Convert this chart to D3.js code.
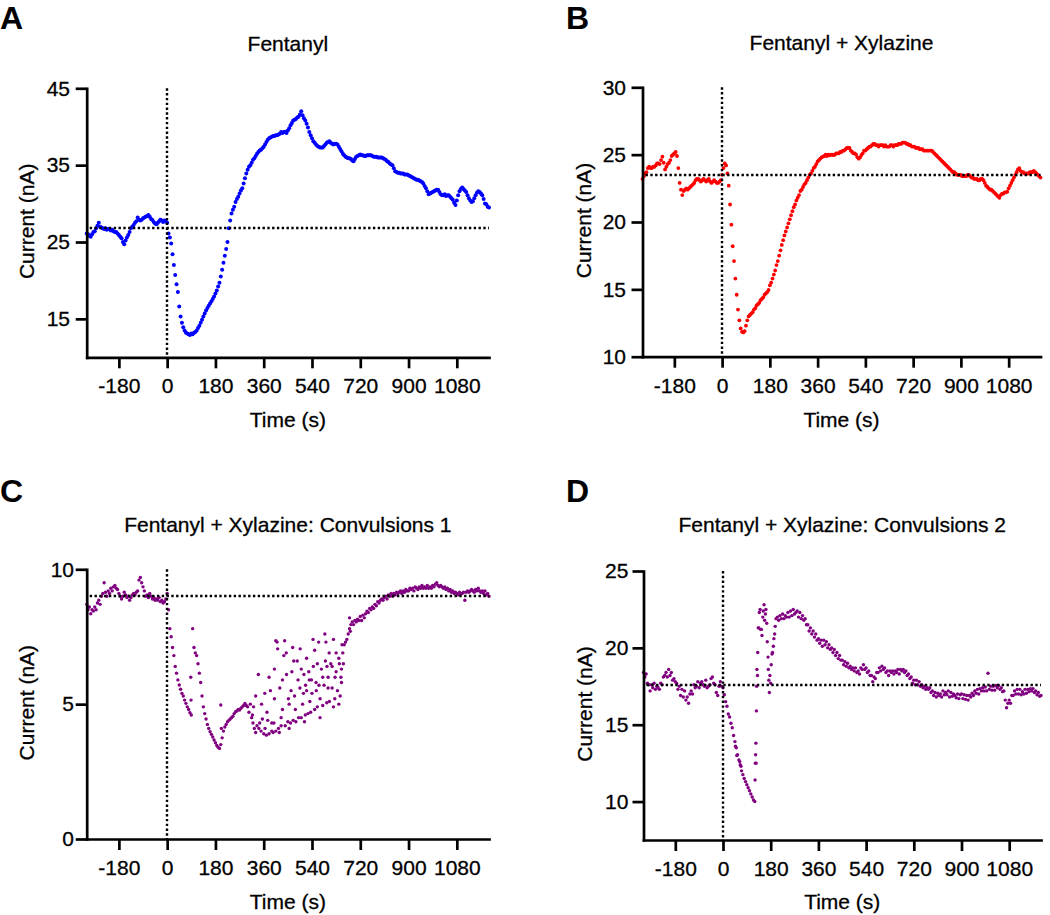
<!DOCTYPE html>
<html>
<head>
<meta charset="utf-8">
<script src="https://cdn.jsdelivr.net/npm/d3@7"></script>
<style>
  body { margin: 0; background: #ffffff; }
  svg text { font-family: Arial, "Liberation Sans", Helvetica, sans-serif; fill: #000; }
</style>
</head>
<body>
<svg id="chart" width="1050" height="915"></svg>
<script>
// ---------------- DATA ----------------
// samples every 5 s from -300 s to 1200 s (301 values per trace)
const sampleStart = -300;
const sampleStep = 5;
const timeDomain = [-300, 1200];

const xTickValues = [-180, 0, 180, 360, 540, 720, 900, 1080];
const xTickLabels = ["-180", "0", "180", "360", "540", "720", "900", "1080"];

const panelLetters = ["A", "B", "C", "D"];
const panelTitles = ["Fentanyl", "Fentanyl + Xylazine", "Fentanyl + Xylazine: Convulsions 1", "Fentanyl + Xylazine: Convulsions 2"];
const xAxisTitle = "Time (s)";
const yAxisTitle = "Current (nA)";

const yTicksA = [15, 25, 35, 45];
const yTicksB = [10, 15, 20, 25, 30];
const yTicksC = [0, 5, 10];
const yTicksD = [10, 15, 20, 25];

const baselineValues = [26.8, 23.5, 9.0, 17.6];

// Panel A: Fentanyl (nA)
const fentanylValues = [
  26.1, 26.0, 25.8, 25.7, 26.0, 26.3, 26.4, 26.8, 27.1, 27.5, 27.0, 26.9,
  26.8, 26.7, 26.8, 26.6, 26.7, 26.7, 26.5, 26.6, 26.4, 26.3, 26.3, 26.1,
  25.9, 25.7, 25.5, 25.0, 24.7, 25.2, 25.6, 25.9, 26.3, 26.8, 27.0, 27.2,
  27.5, 27.7, 28.2, 27.9, 27.8, 27.9, 28.1, 28.2, 28.3, 28.4, 28.5, 28.3,
  28.0, 27.85, 27.6, 27.4, 27.3, 27.5, 27.7, 27.9, 27.8, 27.6, 27.8, 27.7,
  27.5, 26.1, 25.6, 24.8, 23.4, 22.0, 20.7, 19.5, 18.5, 16.6, 15.3, 14.5,
  13.9, 13.5, 13.2, 13.1, 13.0, 12.9, 13.1, 13.0, 13.2, 13.3, 13.5, 13.8,
  14.1, 14.5, 14.9, 15.3, 15.7, 16.1, 16.4, 16.7, 17.0, 17.3, 17.6, 17.9,
  18.3, 18.7, 19.2, 19.7, 20.5, 21.4, 22.3, 23.2, 24.1, 25.0, 26.8, 27.8,
  28.7, 29.2, 29.6, 30.2, 30.6, 30.9, 31.3, 31.7, 32.0, 32.6, 33.3, 33.9,
  34.4, 34.8, 35.0, 35.3, 35.7, 35.9, 36.2, 36.5, 36.7, 36.9, 37.0, 37.2,
  37.4, 37.7, 38.0, 38.3, 38.5, 38.6, 38.7, 38.8, 38.8, 38.9, 38.9, 39.0,
  39.1, 39.3, 39.2, 39.3, 39.35, 39.2, 39.5, 39.8, 40.2, 40.5, 40.8, 40.9,
  41.0, 41.2, 41.3, 41.6, 42.0, 41.5, 41.1, 40.8, 40.4, 39.9, 39.3, 38.9,
  38.5, 38.1, 37.9, 37.7, 37.5, 37.4, 37.3, 37.3, 37.3, 37.5, 37.7, 37.9,
  38.0, 38.1, 37.9, 37.8, 37.7, 37.8, 37.8, 37.7, 37.4, 37.1, 36.8, 36.5,
  36.3, 36.1, 36.0, 35.9, 35.9, 35.8, 35.6, 35.5, 35.8, 36.1, 36.2, 36.3,
  36.4, 36.3, 36.3, 36.2, 36.2, 36.3, 36.3, 36.3, 36.3, 36.2, 36.1, 36.1,
  36.1, 36.0, 36.0, 36.0, 36.0, 35.9, 35.8, 35.7, 35.5, 35.4, 35.2, 35.1,
  35.0, 34.6, 34.2, 34.1, 34.0, 34.0, 33.9, 33.9, 33.9, 33.8, 33.8, 33.8,
  33.7, 33.6, 33.5, 33.4, 33.3, 33.2, 33.1, 33.1, 33.0, 32.9, 32.8, 32.6,
  32.3, 32.0, 31.6, 31.2, 31.3, 31.4, 31.5, 31.6, 31.7, 31.8, 31.8, 31.5,
  31.2, 31.1, 31.1, 31.2, 31.0, 31.1, 31.1, 30.9, 30.7, 30.5, 30.1, 29.8,
  30.4, 31.1, 31.6, 31.9, 32.1, 31.9, 31.7, 31.5, 31.1, 30.7, 30.4, 30.2,
  30.3, 30.7, 31.1, 31.4, 31.6, 31.5, 31.3, 31.1, 30.6, 30.0, 29.9, 29.6,
  29.5
];

// Panel B: Fentanyl + Xylazine (nA)
const fentXylValues = [
  23.2, 23.4, 23.6, 23.7, 24.0, 24.1, 24.0, 24.0, 24.1, 24.1, 24.2, 24.35,
  24.35, 24.3, 24.6, 24.85, 24.4, 23.9, 24.1, 24.3, 24.4, 24.6, 24.9, 25.0,
  25.1, 25.2, 24.9, 24.0, 22.9, 22.4, 22.0, 22.3, 22.4, 22.5, 22.4, 22.5,
  22.6, 22.7, 22.8, 22.9, 23.1, 23.2, 23.2, 23.1, 23.0, 23.1, 23.2, 23.1,
  23.0, 23.1, 23.2, 23.0, 22.9, 23.0, 23.1, 23.0, 22.9, 22.9, 23.0, 23.1,
  23.5, 24.0, 24.35, 24.2, 23.6, 22.7, 21.3, 19.8, 18.2, 17.1, 15.8, 14.6,
  13.5, 12.7, 12.1, 11.85, 11.8, 11.9, 12.3, 12.7, 13.0, 13.1, 13.2, 13.3,
  13.5, 13.6, 13.8, 13.9, 14.0, 14.2, 14.3, 14.4, 14.6, 14.7, 14.8, 14.95,
  15.3, 15.5, 15.8, 16.1, 16.4, 16.8, 17.1, 17.5, 17.9, 18.3, 18.65, 19.0,
  19.3, 19.6, 19.9, 20.2, 20.5, 20.8, 21.1, 21.3, 21.6, 21.8, 22.0, 22.3,
  22.4, 22.6, 22.8, 22.9, 23.1, 23.3, 23.5, 23.6, 23.8, 24.0, 24.1, 24.3,
  24.5, 24.6, 24.7, 24.8, 24.85, 24.9, 25.0, 24.9, 25.0, 24.95, 25.0, 25.0,
  24.97, 25.0, 25.1, 25.1, 25.1, 25.2, 25.2, 25.3, 25.3, 25.4, 25.5, 25.5,
  25.5, 25.3, 25.2, 25.1, 25.1, 25.0, 24.8, 24.7, 24.8, 24.97, 25.1, 25.3,
  25.3, 25.4, 25.5, 25.6, 25.6, 25.7, 25.8, 25.8, 25.7, 25.7, 25.6, 25.7,
  25.7, 25.7, 25.6, 25.7, 25.6, 25.6, 25.6, 25.7, 25.7, 25.6, 25.7, 25.7,
  25.7, 25.8, 25.8, 25.8, 25.9, 25.9, 25.9, 25.8, 25.8, 25.7, 25.7, 25.6,
  25.6, 25.6, 25.5, 25.5, 25.5, 25.4, 25.4, 25.4, 25.3, 25.3, 25.3, 25.3,
  25.3, 25.3, 25.3, 25.2, 25.1, 25.0, 24.9, 24.8, 24.7, 24.6, 24.5, 24.4,
  24.3, 24.2, 24.1, 24.0, 23.9, 23.8, 23.7, 23.7, 23.6, 23.5, 23.5, 23.5,
  23.5, 23.4, 23.4, 23.4, 23.4, 23.5, 23.5, 23.4, 23.3, 23.3, 23.2, 23.2,
  23.2, 23.1, 23.1, 23.2, 23.2, 23.1, 22.9, 22.7, 22.6, 22.5, 22.4, 22.4,
  22.3, 22.2, 22.1, 22.0, 21.9, 21.8, 22.0, 22.1, 22.1, 22.2, 22.2, 22.25,
  22.5, 22.7, 22.9, 23.1, 23.3, 23.5, 23.7, 23.9, 24.0, 23.8, 23.7, 23.7,
  23.6, 23.6, 23.6, 23.6, 23.7, 23.7, 23.7, 23.8, 23.7, 23.6, 23.5, 23.4,
  23.3
];

// Panel C: Fentanyl + Xylazine: Convulsions 1 (nA)
const convulsions1Values = [
  8.7, 8.5, 8.6, 8.35, 8.5, 8.45, 8.6, 8.5, 8.75, 8.85, 8.7, 9.0,
  9.1, 9.5, 9.15, 9.0, 9.2, 9.1, 9.3, 9.2, 9.35, 9.4, 9.3, 9.25,
  9.1, 9.0, 8.9, 9.0, 9.15, 9.05, 8.95, 9.0, 8.85, 8.95, 9.05, 9.1,
  9.05, 9.15, 9.2, 9.6, 9.7, 9.5, 9.35, 9.2, 9.0, 9.05, 8.95, 9.1,
  9.0, 8.9, 8.95, 8.85, 8.9, 8.85, 8.95, 8.8, 8.85, 8.75, 8.8, 8.9,
  9.1, 8.5, 7.8, 7.5, 7.1, 6.8, 6.4, 6.15, 5.9, 5.71, 5.55, 5.4,
  5.3, 5.15, 5.03, 4.9, 4.8, 4.68, 4.6, 7.8, 7.1, 6.9, 6.8, 6.5,
  6.15, 5.8, 5.3, 4.9, 4.65, 4.45, 4.25, 4.1, 3.98, 3.88, 3.78, 3.67,
  3.57, 3.47, 3.4, 3.36, 3.5, 3.75, 4.0, 4.15, 4.25, 4.35, 4.4, 4.45,
  4.5, 4.55, 4.65, 4.72, 4.75, 4.8, 4.78, 4.85, 4.9, 4.95, 5.03, 4.95,
  4.9, 4.7, 5.0, 4.5, 4.3, 4.1, 3.95, 4.2, 6.1, 4.3, 4.0, 4.45,
  3.9, 4.1, 3.85, 4.4, 3.9, 5.5, 4.3, 3.95, 5.2, 4.0, 7.3, 4.1,
  5.6, 4.2, 4.8, 6.8, 4.2, 6.1, 4.35, 5.0, 4.3, 6.2, 4.4, 5.3,
  4.35, 6.6, 4.5, 5.6, 4.5, 5.0, 6.1, 4.6, 5.5, 4.65, 5.9, 4.7,
  5.4, 6.4, 4.8, 5.8, 4.9, 7.3, 5.2, 6.3, 4.95, 5.7, 6.6, 5.05,
  6.0, 5.1, 6.5, 5.6, 7.4, 5.2, 6.2, 5.5, 6.7, 5.3, 6.3, 6.9,
  7.2, 7.3, 7.4, 7.6, 7.8, 7.95, 8.05, 7.95, 8.1, 8.05, 8.15, 8.1,
  8.25, 8.1, 8.3, 8.2, 8.35, 8.45, 8.4, 8.55, 8.5, 8.6, 8.55, 8.7,
  8.65, 8.8, 8.75, 8.85, 8.9, 8.85, 8.95, 9.0, 8.9, 9.05, 9.0, 9.1,
  9.0, 9.1, 9.05, 9.15, 9.1, 9.15, 9.2, 9.1, 9.2, 9.15, 9.25, 9.2,
  9.2, 9.3, 9.25, 9.3, 9.2, 9.35, 9.3, 9.25, 9.35, 9.3, 9.4, 9.3,
  9.35, 9.3, 9.4, 9.3, 9.35, 9.3, 9.4, 9.35, 9.45, 9.5, 9.4, 9.35,
  9.4, 9.35, 9.3, 9.35, 9.25, 9.3, 9.2, 9.25, 9.15, 9.2, 9.1, 9.15,
  9.1, 9.05, 9.15, 9.1, 9.1, 9.15, 8.85, 9.15, 9.2, 9.15, 9.2, 9.25,
  9.2, 9.15, 9.25, 9.2, 9.3, 9.2, 9.15, 9.2, 9.1, 9.2, 9.05, 9.1,
  9.0
];
// additional scattered readings in panel C (time s, current nA)
const convulsions1ExtraTimes = [88, 89, 200, 202, 405, 412, 438, 444, 468, 472, 496, 500, 520, 528, 544, 550, 560, 588, 592, 604, 615, 630, 642, 650, 600, 580, 556, 538, 516, 488, 462, 430, 400, 380, 364, 352, 330, 322, 390, 418, 455, 512, 570, 620, 640, 648, 652, 657, 680, 683, 318, 342, 372, 398, 425, 452, 478, 508, 532, 566, 596, 626];
const convulsions1ExtraValues = [6.0, 5.15, 4.97, 4.1, 7.35, 7.05, 7.35, 6.9, 7.1, 6.6, 7.05, 6.3, 6.7, 6.2, 7.4, 7.0, 6.5, 7.6, 7.3, 6.9, 6.4, 6.9, 6.5, 5.8, 5.6, 6.0, 5.5, 5.9, 5.7, 5.9, 5.5, 5.9, 6.3, 6.0, 5.4, 5.0, 5.3, 4.9, 4.0, 3.95, 4.1, 4.35, 4.5, 4.9, 5.0, 6.0, 7.2, 6.5, 8.2, 7.7, 4.6, 4.1, 4.7, 4.3, 4.5, 5.2, 4.8, 5.4, 5.1, 5.7, 6.4, 6.0];

// Panel D: Fentanyl + Xylazine: Convulsions 2 (nA)
const convulsions2Values = [
  18.4, 18.1, 18.3, 17.7, 17.6, 17.2, 17.6, 17.4, 17.7, 17.3, 17.5, 17.4,
  17.3, 17.7, 17.6, 18.1, 18.2, 18.4, 18.1, 18.6, 18.2, 18.4, 17.9, 18.0,
  17.8, 17.7, 17.3, 17.5, 16.9, 17.3, 16.8, 17.2, 16.6, 16.8, 16.4, 17.0,
  17.2, 17.0, 17.6, 17.4, 17.5, 17.8, 17.4, 17.7, 17.8, 17.6, 17.5, 17.9,
  17.4, 17.5, 17.6, 18.0, 18.1, 17.7, 17.6, 17.1, 16.9, 17.5, 17.8, 17.5,
  17.4, 16.95, 16.5, 16.2, 15.7, 15.5, 15.1, 14.8, 14.3, 13.9, 13.5, 13.05,
  12.7, 12.4, 12.0, 11.75, 11.5, 11.3, 11.1, 10.9, 10.7, 10.5, 10.3, 10.1,
  10.0, 12.5, 18.2, 21.3, 22.5, 21.2, 22.0, 22.8, 22.2, 21.6, 19.4, 17.1,
  17.7, 19.6, 20.1, 20.9, 21.9, 22.0, 21.8, 22.1, 21.9, 22.2, 21.9, 22.1,
  22.0, 22.3, 22.0, 22.4, 22.1, 22.5, 22.2, 22.3, 22.4, 22.0, 22.3, 21.9,
  22.1, 21.8, 21.9, 21.5, 21.5, 21.1, 21.3, 20.9, 21.1, 20.7, 20.9, 20.5,
  20.6, 20.3, 20.5, 20.1, 20.5, 20.2, 20.4, 20.0, 20.2, 19.9, 20.0, 19.7,
  19.9, 19.5, 19.7, 19.3, 19.5, 19.2, 19.2, 18.9, 19.1, 18.8, 19.0, 18.7,
  18.8, 18.6, 18.7, 18.5, 18.7, 18.4, 18.5, 18.3, 18.7, 18.6, 18.9, 18.6,
  18.7, 18.4, 18.5, 18.2, 18.2, 17.8, 18.1, 18.0, 18.4, 18.4, 18.7, 18.5,
  18.8, 18.6, 18.7, 18.4, 18.5, 18.2, 18.5, 18.4, 18.5, 18.3, 18.5, 18.4,
  18.6, 18.3, 18.6, 18.5, 18.6, 18.4, 18.5, 18.2, 18.3, 18.0, 18.1, 17.7,
  17.9, 17.6, 17.9, 17.6, 17.8, 17.5, 17.6, 17.4, 17.5, 17.3, 17.4, 17.3,
  17.4, 17.1, 17.2, 16.9, 17.1, 16.8, 17.05, 16.9, 17.0, 16.8, 17.2, 16.95,
  17.1, 16.95, 17.2, 16.8, 17.1, 16.85, 17.0, 16.9, 16.75, 17.0, 16.7, 16.95,
  17.0, 16.7, 16.95, 16.65, 16.9, 16.6, 16.9, 16.8, 17.05, 16.9, 17.2, 17.05,
  17.3, 17.0, 17.35, 17.2, 17.4, 17.2, 17.45, 17.2, 18.35, 17.3, 17.5, 17.25,
  17.5, 17.25, 17.55, 17.4, 17.55, 17.3, 17.4, 17.15, 17.2, 16.6, 16.1, 16.4,
  16.6, 16.4, 16.9, 16.9, 17.2, 17.0, 17.3, 17.0, 17.3, 16.95, 17.15, 17.0,
  17.3, 17.05, 17.3, 17.15, 17.35, 17.2, 17.35, 17.1, 17.2, 16.95, 17.1, 16.85,
  16.9
];
// additional scattered readings in panel D (time s, current nA)
const convulsions2ExtraTimes = [121, 122, 123, 124, 126, 127, 128, 131, 133, 137, 142, 147, 152, 157, 162, 167, 171, 173, 177, 182, 187, 192, 197, 47, 52, 63, 68];
const convulsions2ExtraValues = [11.4, 12.5, 13.05, 13.8, 15.9, 17.5, 18.6, 19.7, 21.3, 22.3, 21.2, 20.8, 22.4, 21.8, 22.5, 20.4, 18.6, 17.9, 18.2, 18.9, 19.7, 20.6, 21.4, 13.6, 13.0, 12.6, 12.3];

// ---------------- LAYOUT / STYLE ----------------
const panels = [
  { letter: panelLetters[0], title: panelTitles[0], values: fentanylValues, extraT: [], extraV: [],
    color: "#0000ff", r: 2.0, yDomain: [10, 45], yTicks: yTicksA, baseline: baselineValues[0],
    left: 86.7, right: 489, top: 88.3, bottom: 357.3, yPad: 5.7,
    letterX: 0, letterY: 29, titleY: 50.5, yTitleX: 34, xTitleY: 427 },
  { letter: panelLetters[1], title: panelTitles[1], values: fentXylValues, extraT: [], extraV: [],
    color: "#ff0000", r: 1.9, yDomain: [10, 30], yTicks: yTicksB, baseline: baselineValues[1],
    left: 642.5, right: 1040.5, top: 87.3, bottom: 356.7, yPad: 5.5,
    letterX: 566, letterY: 29, titleY: 50, yTitleX: 591, xTitleY: 427 },
  { letter: panelLetters[2], title: panelTitles[2], values: convulsions1Values, extraT: convulsions1ExtraTimes, extraV: convulsions1ExtraValues,
    color: "#800080", r: 1.7, yDomain: [0, 10], yTicks: yTicksC, baseline: baselineValues[2],
    left: 86.7, right: 489, top: 569.3, bottom: 839, yPad: 1.7,
    letterX: 0, letterY: 502, titleY: 532, yTitleX: 34, xTitleY: 909 },
  { letter: panelLetters[3], title: panelTitles[3], values: convulsions2Values, extraT: convulsions2ExtraTimes, extraV: convulsions2ExtraValues,
    color: "#800080", r: 1.7, yDomain: [7.5, 25], yTicks: yTicksD, baseline: baselineValues[3],
    left: 643.5, right: 1041, top: 571, bottom: 840, yPad: 4.2,
    letterX: 566, letterY: 502, titleY: 532, yTitleX: 592, xTitleY: 909 }
];

const textStroke = 0.3;

const svg = d3.select("#chart");
svg.append("rect").attr("width", 1050).attr("height", 915).attr("fill", "#fff");

panels.forEach(p => {
  const x = d3.scaleLinear().domain(timeDomain).range([p.left, p.right]);
  const y = d3.scaleLinear().domain(p.yDomain).range([p.bottom, p.top]);
  const g = svg.append("g");

  // points
  const pts = p.values.map((v, i) => ({ t: sampleStart + i * sampleStep, v }))
    .filter(d => d.v != null);
  p.extraT.forEach((t, i) => pts.push({ t, v: p.extraV[i] }));
  g.append("g").selectAll("circle").data(pts).join("circle")
    .attr("cx", d => x(d.t)).attr("cy", d => y(d.v))
    .attr("r", p.r).attr("fill", p.color);

  // dotted reference lines
  const xz = Math.round(x(0));
  const yb = Math.round(y(p.baseline));
  g.append("line")
    .attr("x1", xz).attr("x2", xz)
    .attr("y1", y(p.yDomain[1])).attr("y2", y(p.yDomain[0]))
    .attr("stroke", "#000").attr("stroke-width", 2.4).attr("stroke-dasharray", "2.4,2.4");
  g.append("line")
    .attr("x1", x(timeDomain[0]) + 3).attr("x2", x(timeDomain[1]))
    .attr("y1", yb).attr("y2", yb)
    .attr("stroke", "#000").attr("stroke-width", 2.4).attr("stroke-dasharray", "2.4,2.4");

  // axes
  const xAxis = g.append("g").attr("transform", `translate(0,${p.bottom})`)
    .call(d3.axisBottom(x).tickValues(xTickValues).tickFormat((d, i) => xTickLabels[i])
      .tickSize(11).tickSizeOuter(0).tickPadding(10));
  const yAxis = g.append("g").attr("transform", `translate(${p.left},0)`)
    .call(d3.axisLeft(y).tickValues(p.yTicks).tickFormat(d => String(d))
      .tickSize(11).tickSizeOuter(0).tickPadding(p.yPad));
  [xAxis, yAxis].forEach(a => {
    a.select(".domain").attr("stroke", "#000").attr("stroke-width", 2.7).attr("stroke-linecap", "square");
    a.selectAll(".tick line").attr("stroke", "#000").attr("stroke-width", 2.7);
    a.selectAll(".tick text").attr("font-size", 21).attr("fill", "#000")
      .attr("stroke", "#000").attr("stroke-width", textStroke)
      .style("font-family", 'Arial, "Liberation Sans", Helvetica, sans-serif');
  });

  // texts
  g.append("text").attr("x", p.letterX).attr("y", p.letterY)
    .attr("font-size", 32).attr("font-weight", "bold").text(p.letter);
  g.append("text").attr("x", (p.left + p.right) / 2).attr("y", p.titleY)
    .attr("text-anchor", "middle").attr("font-size", 21)
    .attr("stroke", "#000").attr("stroke-width", textStroke).text(p.title);
  g.append("text").attr("x", (p.left + p.right) / 2).attr("y", p.xTitleY)
    .attr("text-anchor", "middle").attr("font-size", 21)
    .attr("stroke", "#000").attr("stroke-width", textStroke).text(xAxisTitle);
  g.append("text")
    .attr("transform", `translate(${p.yTitleX},${(p.top + p.bottom) / 2 - 1.5}) rotate(-90)`)
    .attr("text-anchor", "middle").attr("font-size", 21)
    .attr("stroke", "#000").attr("stroke-width", textStroke).text(yAxisTitle);
});
</script>
</body>
</html>
